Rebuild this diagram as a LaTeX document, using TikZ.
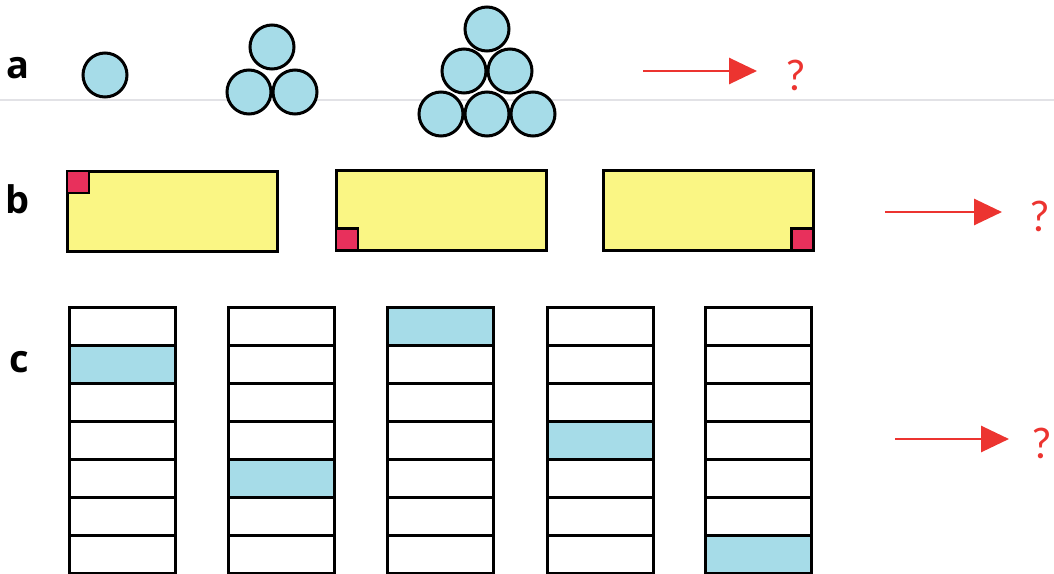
\documentclass[tikz,border=0pt]{standalone}
\usepackage{fontspec}
\usepackage{tikz}
\usetikzlibrary{positioning,arrows.meta}
\newfontfamily\labelfont{Open Sans}
\newfontfamily\qfont{Lato}
\definecolor{ballblue}{RGB}{166,220,232}
\definecolor{padyellow}{RGB}{250,246,132}
\definecolor{sqred}{RGB}{232,48,92}
\definecolor{arrowred}{RGB}{236,52,48}
\definecolor{rulegrey}{RGB}{226,226,230}
\tikzset{
  ball/.style={circle, draw=black, line width=1.5pt, fill=ballblue,
               minimum size=22pt, inner sep=0pt},
  pad/.style={rectangle, draw=black, line width=1.5pt, fill=padyellow,
              minimum width=105pt, minimum height=40pt, inner sep=0pt},
  cornersq/.style={rectangle, draw=black, line width=1.2pt, fill=sqred,
                   minimum size=11pt, inner sep=0pt},
  cell/.style={rectangle, draw=black, line width=1.5pt,
               minimum width=53pt, minimum height=19pt, inner sep=0pt},
  lbl/.style={font=\labelfont\bfseries\fontsize{19}{22}\selectfont, inner sep=0pt},
  qmark/.style={font=\qfont\fontsize{21}{24}\selectfont, color=arrowred, inner sep=0pt},
  flow/.style={-{Triangle[length=14pt, width=13pt]}, line width=1.4pt, color=arrowred},
}
\begin{document}
\begin{tikzpicture}[x=0.5pt,y=-0.5pt]
\useasboundingbox (0,0) rectangle (1054,573);
% faint page rule
\coordinate (rule-l) at (0,100);
\coordinate (rule-r) at (1054,100);
\draw[rulegrey, line width=1pt] (rule-l) -- (rule-r);

% row a: triangular numbers
\node[lbl] (la) at (18,68) {a};
\node[ball] (a1) at (105,75) {};
\foreach \n/\x/\y in {1/272/47, 2/249/92, 3/295/92}
  \node[ball] (b\n) at (\x,\y) {};
\foreach \n/\x/\y in {1/487/29, 2/464/71, 3/510/71, 4/441/114, 5/487/114, 6/533/114}
  \node[ball] (c\n) at (\x,\y) {};
\coordinate (a-tail) at (643,71);
\coordinate (a-head) at (757,71);
\node[qmark] (qa) at (796,75) {?};
\draw[flow] (a-tail) -- (a-head);

% row b: square walks round the corners
\node[lbl] (lb) at (18,199) {b};
\node[pad] (p1) at (172,211) {};
\node[pad] (p2) at (441,210) {};
\node[pad] (p3) at (708,210) {};
\node[cornersq, anchor=north west] (s1) at (p1.north west) {};
\node[cornersq, anchor=south west] (s2) at (p2.south west) {};
\node[cornersq, anchor=south east] (s3) at (p3.south east) {};
\coordinate (b-tail) at (885,212);
\coordinate (b-head) at (1002,212);
\node[qmark] (qb) at (1040,216) {?};
\draw[flow] (b-tail) -- (b-head);

% row c: strips, shaded cell moves down three
\node[lbl] (lc) at (19,362) {c};
\foreach \c/\x/\s in {1/122/2, 2/281/5, 3/440/1, 4/600/4, 5/758/7}{
  \foreach \r in {1,...,7}{
    \ifnum\r=\s \def\cellfill{ballblue}\else\def\cellfill{white}\fi
    \node[cell, fill=\cellfill] (k\c-\r) at (\x,{307+38*\r-19}) {};
  }
}
\coordinate (c-tail) at (895,439);
\coordinate (c-head) at (1009,439);
\node[qmark] (qc) at (1042,443) {?};
\draw[flow] (c-tail) -- (c-head);
\end{tikzpicture}
\end{document}
